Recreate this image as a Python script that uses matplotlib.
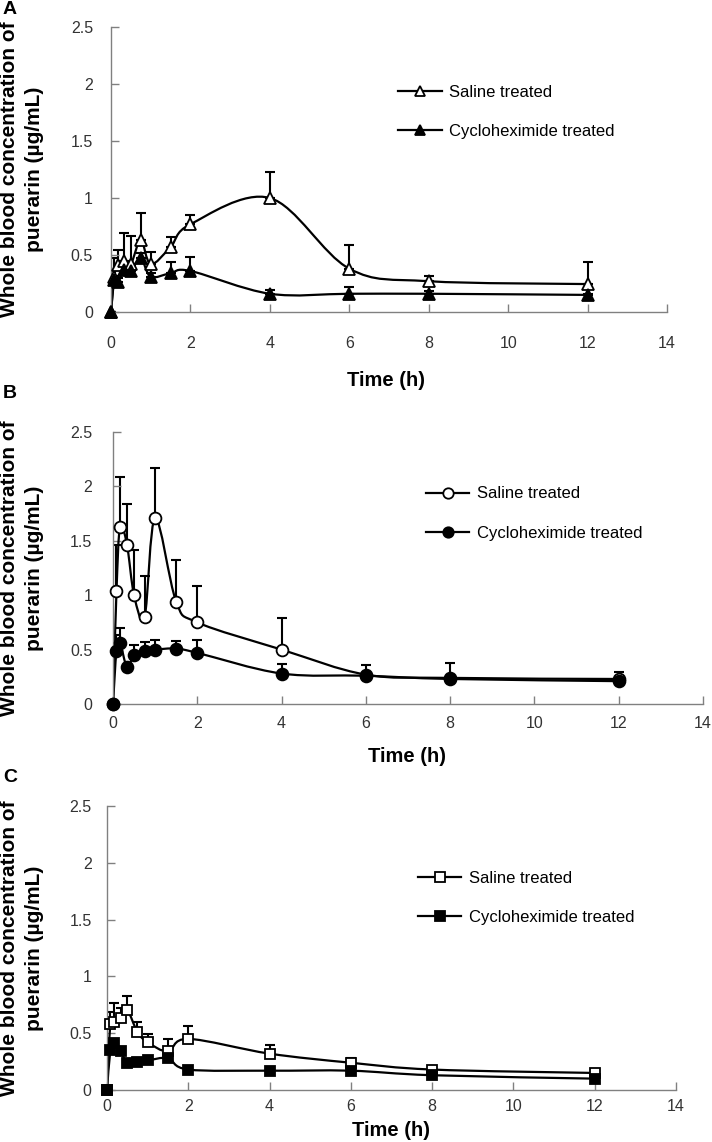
import matplotlib
matplotlib.use("Agg")
import matplotlib.pyplot as plt
import numpy as np
from matplotlib.path import Path
from matplotlib.patches import PathPatch
from matplotlib.lines import Line2D
from matplotlib.ticker import FuncFormatter

plt.rcParams['font.family'] = ['Liberation Sans', 'DejaVu Sans']

# sampling times (h)
times = [0, 0.083, 0.167, 0.333, 0.5, 0.75, 1, 1.5, 2, 4, 6, 8, 12]

# panel A
a_saline = [0, 0.31, 0.41, 0.45, 0.42, 0.63, 0.42, 0.57, 0.77, 1.00, 0.38, 0.27, 0.245]
a_saline_sd = [0, 0.16, 0.13, 0.24, 0.25, 0.24, 0.11, 0.09, 0.08, 0.23, 0.21, 0.05, 0.19]
a_cyclo = [0, 0.28, 0.26, 0.37, 0.36, 0.47, 0.31, 0.34, 0.36, 0.16, 0.16, 0.16, 0.15]
a_cyclo_sd = [0, 0.04, 0.04, 0.04, 0.05, 0.05, 0.03, 0.10, 0.12, 0.03, 0.06, 0.02, 0.01]

# panel B
b_saline = [0, 1.04, 1.63, 1.46, 1.00, 0.80, 1.71, 0.94, 0.75, 0.50, 0.27, 0.24, 0.23]
b_saline_sd = [0, 0.42, 0.46, 0.38, 0.42, 0.38, 0.46, 0.38, 0.33, 0.29, 0.09, 0.14, 0.06]
b_cyclo = [0, 0.49, 0.56, 0.34, 0.45, 0.49, 0.50, 0.51, 0.47, 0.28, 0.26, 0.23, 0.21]
b_cyclo_sd = [0, 0.14, 0.14, 0.0, 0.09, 0.08, 0.09, 0.07, 0.12, 0.09, 0.02, 0.02, 0.02]

# panel C
c_saline = [0, 0.58, 0.60, 0.63, 0.70, 0.51, 0.42, 0.34, 0.45, 0.32, 0.24, 0.18, 0.15]
c_saline_sd = [0, 0.11, 0.17, 0.09, 0.13, 0.09, 0.07, 0.11, 0.11, 0.08, 0.04, 0.02, 0.01]
c_cyclo = [0, 0.35, 0.41, 0.34, 0.24, 0.25, 0.26, 0.28, 0.18, 0.17, 0.17, 0.13, 0.10]
c_cyclo_sd = [0, 0.02, 0.02, 0.02, 0.01, 0.01, 0.02, 0.04, 0.01, 0.01, 0.01, 0.01, 0.01]

legend_labels = ['Saline treated', 'Cycloheximide treated']


def smooth_path(x, y):
    # Excel-style smoothed line: Catmull-Rom segments as cubic Beziers
    pts = np.column_stack([x, y]).astype(float)
    n = len(pts)
    verts = [pts[0]]
    codes = [Path.MOVETO]
    for i in range(n - 1):
        p0 = pts[max(i - 1, 0)]
        p1 = pts[i]
        p2 = pts[i + 1]
        p3 = pts[min(i + 2, n - 1)]
        c1 = p1 + (p2 - p0) / 6.0
        c2 = p2 - (p3 - p1) / 6.0
        verts += [c1, c2, p2]
        codes += [Path.CURVE4] * 3
    return Path(verts, codes)


def draw_panel(ax, sal, sal_sd, cyc, cyc_sd, marker, msize, leg_xy, xpad, ypad):
    for yv, sd, face in [(sal, sal_sd, 'white'), (cyc, cyc_sd, 'black')]:
        ax.add_patch(PathPatch(smooth_path(times, yv), facecolor='none',
                               edgecolor='black', lw=1.6, zorder=2))
        ax.errorbar(times, yv, yerr=[np.zeros(len(sd)), sd], fmt='none',
                    ecolor='black', elinewidth=1.5, capsize=3.5, capthick=1.5,
                    zorder=1)
        ax.plot(times, yv, linestyle='none', marker=marker, ms=msize,
                mfc=face, mec='black', mew=1.3, zorder=3, clip_on=False)

    ax.set_xlim(0, 14)
    ax.set_ylim(0, 2.5)
    ax.set_xticks(range(0, 15, 2))
    ax.set_yticks([0, 0.5, 1, 1.5, 2, 2.5])
    ax.yaxis.set_major_formatter(FuncFormatter(lambda v, p: '%g' % v))
    for s in ['top', 'right']:
        ax.spines[s].set_visible(False)
    for s in ['left', 'bottom']:
        ax.spines[s].set_color('#808080')
        ax.spines[s].set_linewidth(1.0)
    ax.tick_params(axis='both', direction='in', length=6, width=1.0,
                   color='#808080', labelsize=11.5, labelcolor='#333333')
    ax.tick_params(axis='y', pad=ypad)
    ax.tick_params(axis='x', pad=xpad)

    handles = [Line2D([], [], color='black', lw=1.6, marker=marker, ms=msize - 1,
                      mfc=f, mec='black', mew=1.3) for f in ['white', 'black']]
    ax.legend(handles, legend_labels, loc='upper left', bbox_to_anchor=leg_xy,
              frameon=False, fontsize=12, handlelength=2.6, handletextpad=0.45,
              labelspacing=1.45)


fig = plt.figure(figsize=(7.12, 11.42), dpi=100)

W, H = 712.0, 1142.0
# axes boxes in pixels: left, top, right, bottom
boxes = [
    (111, 27, 667, 312),
    (113, 432, 703, 704),
    (107, 806, 676, 1090),
]
panels = [
    (a_saline, a_saline_sd, a_cyclo, a_cyclo_sd, '^', 8.5, (0.49, 0.85), 17, 13),
    (b_saline, b_saline_sd, b_cyclo, b_cyclo_sd, 'o', 8.5, (0.505, 0.855), 8.5, 15),
    (c_saline, c_saline_sd, c_cyclo, c_cyclo_sd, 's', 7.5, (0.52, 0.825), 6.5, 11),
]
letters = ['A', 'B', 'C']
letter_y = [9, 393, 778]
xlabel_y = [380, 757, 1130]
xlabel_x = [386, 407, 391]

for (l, t, r, b), p, let, ly, xy, xx in zip(boxes, panels, letters, letter_y,
                                          xlabel_y, xlabel_x):
    ax = fig.add_axes([l / W, 1 - b / H, (r - l) / W, (b - t) / H])
    ax.patch.set_alpha(0)
    draw_panel(ax, *p)
    fig.text(xx / W, 1 - xy / H, 'Time (h)', fontsize=14.5, fontweight='bold',
             ha='center', va='center')
    fig.text(22 / W, 1 - ((t + b) / 2) / H,
             'Whole blood concentration of\npuerarin (\u00b5g/mL)',
             rotation=90, ha='center', va='center', fontsize=15,
             fontweight='bold', multialignment='center', linespacing=1.45)
    fig.text(3 / W, 1 - ly / H, let, fontsize=14, fontweight='bold',
             ha='left', va='center')

fig.savefig('out.png', dpi=100)
